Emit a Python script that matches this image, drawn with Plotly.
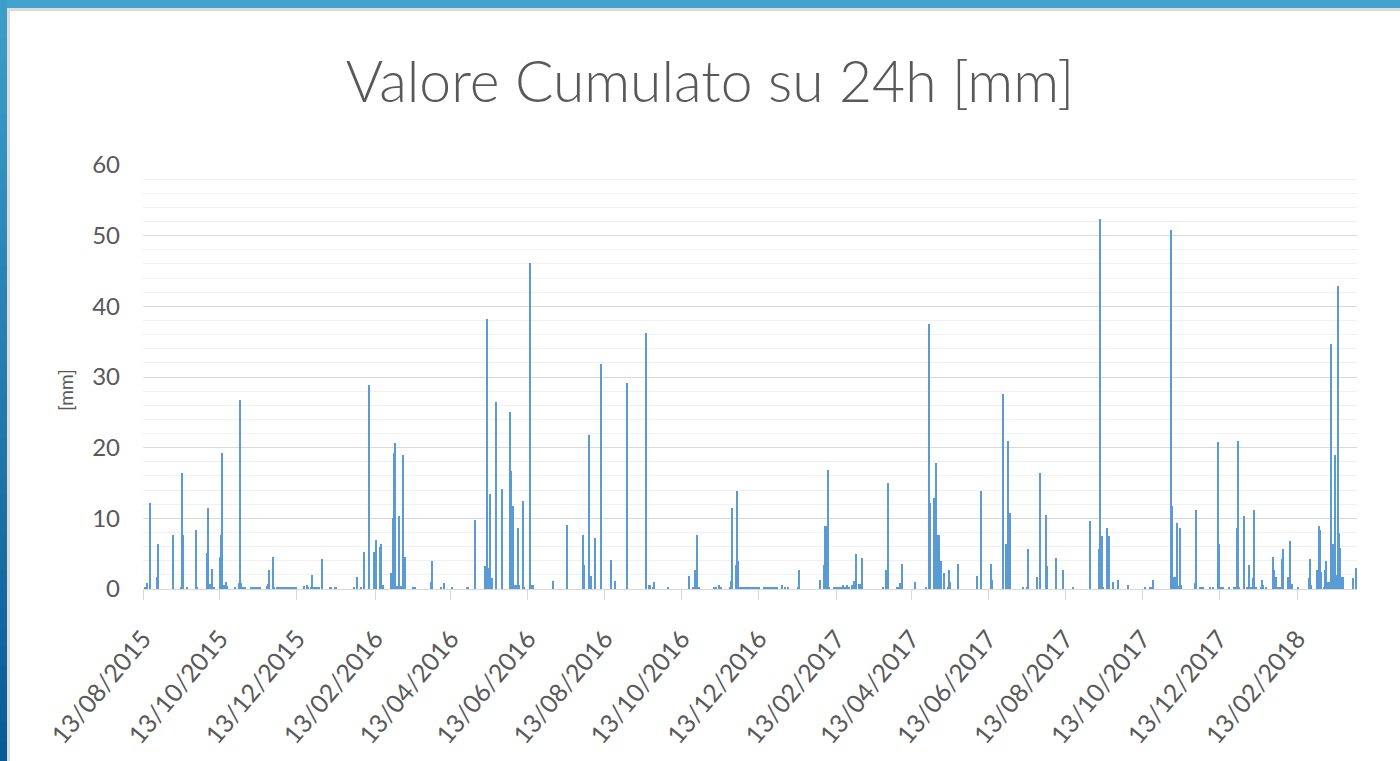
import numpy as np
import pandas as pd
import plotly.graph_objects as go

# ---------------- data ----------------
start_date = "2015-08-13"
n_days = 963  # daily series 13/08/2015 .. 01/04/2018

# day offset from 13/08/2015 of each rainy day
rain_day = [
    2, 3, 6, 11, 12, 24, 30, 31, 32, 35, 42, 43, 51, 52, 53, 54, 55, 56,
    61, 62, 63, 64, 65, 66, 67, 73, 76, 77, 78, 79, 80, 81, 86, 87, 89, 90, 91, 93,
    98, 99, 100, 103, 104, 106, 107, 108, 109, 110, 112, 113, 114,
    116, 117, 118, 119, 120, 121, 128, 130, 131, 133, 134, 135, 136, 137, 139, 140,
    142, 148, 149, 152, 153,
    167, 170, 173, 175, 179, 183, 185, 188, 189, 190, 197, 198, 199, 200, 201, 202,
    203, 204, 205, 206, 207, 208, 214, 215, 216, 228, 229, 236, 239, 245, 257, 258,
    263, 271, 272, 273, 274, 275, 277, 280, 285, 291, 292, 293, 295, 296, 297, 298,
    301, 302, 307, 308, 309,
    325, 336, 349, 350, 354, 355, 358, 363, 371, 374, 384, 399, 401, 402, 404, 405,
    416, 433, 436, 438, 439, 440, 441, 453, 454, 457, 458, 465, 466, 467, 470, 471,
    472, 473, 474, 475, 476, 477, 479, 480, 481, 482, 483, 484, 485, 486, 487, 488,
    492, 493, 494, 495, 496, 497, 498, 499, 500, 501, 502, 503, 507, 509, 511, 519, 520,
    537, 540, 541, 542, 543, 544, 548, 549, 550, 552, 553, 554, 555, 556, 557, 558,
    559, 560, 562, 564, 565, 568, 569, 570, 587, 589, 591, 598, 599, 600, 602, 612,
    621, 623, 624, 627, 628, 629, 630, 631, 632, 633, 635, 638, 639, 640, 646, 661,
    664, 672, 673, 682, 684, 685, 686, 687, 698, 701, 702, 709, 711, 716, 717, 724,
    729, 737, 751, 758, 759, 760, 761, 764, 765, 766, 769, 773, 781,
    794, 798, 800, 801, 815, 816, 817, 818, 819, 820, 821, 822, 823, 834, 835, 838,
    839, 840, 846, 848, 852, 853, 854, 855, 856, 861, 865, 866, 867, 868, 869, 873,
    875, 876, 877, 878, 880, 881, 882, 886, 887, 888, 890, 896, 897, 898, 900, 901,
    902, 903, 904, 908, 909, 910, 911, 916, 924, 925, 926, 931, 932, 933, 934, 936,
    937, 938, 939, 940, 941, 942, 943, 944, 945, 946, 947, 948, 949, 950, 951, 959, 962,
]

# cumulated rain over 24h [mm] for each of those days
rain_mm = [
    0.3, 0.8, 12.2, 1.7, 6.4, 7.6, 0.3, 16.4, 7.6, 0.3, 8.4, 0.3, 5.1, 11.5, 0.7, 0.7, 2.9, 0.3,
    4.5, 7.6, 19.3, 0.6, 0.6, 1.0, 0.4, 0.2, 0.9, 26.7, 0.9, 0.3, 0.3, 0.3, 0.3, 0.3, 0.3, 0.3, 0.3, 0.3,
    0.4, 0.7, 2.7, 4.5, 0.3, 0.3, 0.3, 0.3, 0.3, 0.3, 0.3, 0.3, 0.3,
    0.3, 0.3, 0.3, 0.3, 0.3, 0.3, 0.4, 0.6, 0.3, 0.3, 2.0, 0.3, 0.3, 0.3, 0.3, 0.3,
    4.2, 0.3, 0.3, 0.3, 0.3,
    0.3, 1.7, 0.3, 5.3, 28.9, 5.3, 7.0, 6.0, 6.3, 0.5, 2.2, 10.1, 19.3, 20.7, 0.4, 0.4,
    10.3, 0.4, 0.4, 18.9, 0.3, 4.5, 0.3, 0.3, 0.3, 1.0, 3.9, 0.3, 0.8, 0.3, 0.3, 0.3,
    9.8, 3.2, 3.2, 38.2, 3.0, 13.5, 1.5, 26.5, 14.1, 25.1, 16.7, 11.7, 0.5, 0.5, 8.6, 0.6,
    12.4, 0.2, 46.2, 0.5, 0.5,
    1.2, 9.1, 7.6, 3.4, 21.8, 1.9, 7.2, 31.9, 4.1, 1.2, 29.1, 36.2, 0.5, 0.5, 0.3, 1.0,
    0.3, 1.9, 0.3, 2.7, 7.6, 0.3, 0.3, 0.3, 0.3, 0.6, 0.3, 0.3, 1.2, 11.5, 3.4, 13.8,
    3.9, 0.3, 0.3, 0.3, 0.3, 0.3, 0.3, 0.3, 0.3, 0.3, 0.3, 0.3, 0.3, 0.3, 0.3, 0.3,
    0.3, 0.3, 0.3, 0.3, 0.3, 0.3, 0.3, 0.3, 0.3, 0.3, 0.3, 0.3, 0.5, 0.3, 0.3, 0.3, 2.7,
    1.3, 3.4, 8.9, 8.9, 16.8, 0.3, 0.3, 0.3, 0.3, 0.3, 0.3, 0.3, 0.5, 0.3, 0.3, 0.5,
    0.3, 0.3, 0.6, 1.1, 4.9, 0.7, 0.7, 4.4, 0.3, 2.7, 15.0, 0.3, 0.3, 0.8, 3.6, 1.0,
    0.3, 37.5, 12.2, 12.9, 3.9, 17.9, 7.7, 7.7, 0.3, 3.9, 2.2, 0.3, 2.7, 1.0, 3.6, 1.9,
    13.8, 3.6, 1.3, 27.6, 6.3, 6.3, 21.0, 10.8, 0.3, 0.3, 5.6, 1.7, 16.4, 10.5, 3.2, 4.4,
    2.7, 0.3, 9.6, 5.6, 52.3, 7.5, 0.3, 8.6, 3.0, 7.5, 1.0, 1.3, 0.5,
    0.3, 0.3, 0.3, 1.3, 50.8, 11.7, 1.7, 1.7, 1.3, 9.4, 0.4, 8.6, 0.5, 0.8, 11.2, 0.3,
    0.3, 0.3, 0.3, 0.3, 20.8, 6.3, 0.3, 0.3, 0.3, 0.3, 0.3, 0.3, 8.6, 21.0, 0.3, 10.3,
    0.3, 0.3, 3.4, 0.3, 1.6, 11.2, 0.3, 0.3, 1.3, 0.6, 0.3, 4.5, 2.7, 1.7, 0.3, 0.3,
    0.3, 4.2, 5.6, 1.7, 6.8, 0.3, 0.7, 0.3, 1.6, 4.2, 0.6, 2.7, 8.9, 8.4, 2.4, 0.3,
    2.7, 3.9, 1.0, 1.0, 1.0, 34.6, 6.3, 0.3, 18.9, 2.0, 42.9, 7.9, 5.8, 1.7, 1.7, 1.6, 3.0,
]

title_text = "Valore Cumulato su 24h [mm]"
y_title = "[mm]"
y_ticks = [0, 10, 20, 30, 40, 50, 60]

# ---------------- build daily series ----------------
assert len(rain_day) == len(rain_mm)
dates = pd.date_range(start_date, periods=n_days, freq="D")
values = np.zeros(n_days)
values[np.array(rain_day)] = rain_mm

TXT = "#595959"
FONT = "Lato, 'Open Sans', sans-serif"

fig = go.Figure()
fig.add_trace(go.Bar(
    x=dates, y=values,
    marker=dict(color="#5B9BD5", line=dict(width=0)),
    hoverinfo="x+y",
))

# plot area in pixels
L, R, T, B = 143, 1357, 165, 589
W, H = 1400, 761
PW, PH = R - L, B - T


def xp(p):
    return (p - L) / PW


def yp(p):
    return (B - p) / PH


shapes = []
# top blue band
shapes.append(dict(type="rect", xref="paper", yref="paper",
                   x0=xp(0), x1=xp(W), y0=yp(0), y1=yp(8),
                   fillcolor="#42a4ce", line=dict(width=0), layer="above"))
# light grey inner border
shapes.append(dict(type="rect", xref="paper", yref="paper",
                   x0=xp(7), x1=xp(W), y0=yp(8), y1=yp(11),
                   fillcolor="#dcdcdc", line=dict(width=0), layer="above"))
shapes.append(dict(type="rect", xref="paper", yref="paper",
                   x0=xp(7), x1=xp(10), y0=yp(8), y1=yp(H),
                   fillcolor="#dcdcdc", line=dict(width=0), layer="above"))
# left blue band with vertical gradient (built from slices)
c_top = np.array([0x3d, 0x9f, 0xc9])
c_bot = np.array([0x0b, 0x5a, 0x95])
nseg = 40
for i in range(nseg):
    t = (i + 0.5) / nseg
    c = (c_top * (1 - t) + c_bot * t).astype(int)
    y0p = H * i / nseg
    y1p = H * (i + 1) / nseg + 1
    shapes.append(dict(type="rect", xref="paper", yref="paper",
                       x0=xp(0), x1=xp(7), y0=yp(y0p), y1=yp(y1p),
                       fillcolor="rgb(%d,%d,%d)" % tuple(c), line=dict(width=0), layer="above"))

x_end = pd.Timestamp(start_date) + pd.Timedelta(days=962.3)

fig.update_layout(
    width=W, height=H,
    margin=dict(l=L, r=W - R, t=T, b=H - B, pad=0),
    paper_bgcolor="white", plot_bgcolor="white",
    bargap=0.0,
    showlegend=False,
    title=dict(text=title_text, x=710 / W, xref="container", xanchor="center",
               y=1 - 82 / H, yref="container", yanchor="middle",
               font=dict(family=FONT, size=57, color=TXT, weight=300)),
    xaxis=dict(
        type="date",
        range=[pd.Timestamp(start_date), x_end],
        tick0=start_date, dtick="M2", tickformat="%d/%m/%Y",
        tickangle=-50,
        tickfont=dict(family=FONT, size=25, color=TXT),
        ticks="outside", ticklen=10, tickwidth=1.3, tickcolor="#d9d9d9",
        ticklabelstandoff=14,
        showline=True, linecolor="#d9d9d9", linewidth=1.3,
        showgrid=False, zeroline=False,
    ),
    yaxis=dict(
        range=[0, 60], tickvals=y_ticks,
        tickfont=dict(family=FONT, size=24, color=TXT),
        ticks="", ticklabelstandoff=22,
        showgrid=True, gridcolor="#d9d9d9", gridwidth=1.3,
        minor=dict(dtick=2, showgrid=True, gridcolor="#f0f0f0", gridwidth=1.3),
        zeroline=False, showline=False,
    ),
    annotations=[dict(text=y_title, xref="paper", yref="paper",
                      x=xp(65), y=yp(390), textangle=-90, showarrow=False,
                      xanchor="center", yanchor="middle",
                      font=dict(family=FONT, size=19, color=TXT))],
    shapes=shapes,
)

fig.write_html("out.html",
               config={"displayModeBar": False},
               post_script="document.body.style.margin='0';document.body.style.overflow='hidden';")
